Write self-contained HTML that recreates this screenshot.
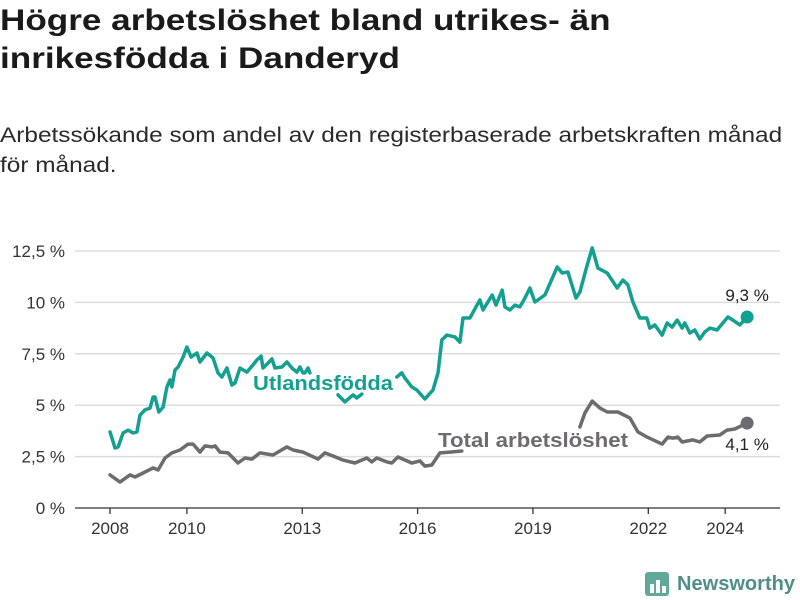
<!DOCTYPE html>
<html><head><meta charset="utf-8"><style>
body{margin:0;width:800px;height:600px;background:#fff;font-family:"Liberation Sans",sans-serif;color:#222;overflow:hidden;position:relative}
h1{position:absolute;left:0;top:2px;margin:0;font-size:29.5px;line-height:38px;font-weight:bold;color:#1a1a1a;transform:scaleX(1.19);transform-origin:0 0;white-space:nowrap}
p{position:absolute;left:0;top:120px;margin:0;font-size:21.3px;line-height:30px;color:#2a2a2a;transform:scaleX(1.145);transform-origin:0 0;white-space:nowrap}
svg{position:absolute;left:0;top:0}
</style></head><body>
<h1>Högre arbetslöshet bland utrikes- än<br>inrikesfödda i Danderyd</h1>
<p>Arbetssökande som andel av den registerbaserade arbetskraften månad<br>för månad.</p>
<svg id="c" width="800" height="600"></svg>
<script>
const yTicks=[0,2.5,5,7.5,10,12.5];
const yTickLabels=["0 %","2,5 %","5 %","7,5 %","10 %","12,5 %"];
const xTicks=[2008,2010,2013,2016,2019,2022,2024];
const utlYears=[2008.00,2008.13,2008.21,2008.34,2008.47,2008.60,2008.70,2008.78,2008.91,2009.04,2009.12,2009.17,2009.27,2009.38,2009.48,2009.56,2009.61,2009.69,2009.77,2009.90,2010.00,2010.11,2010.26,2010.34,2010.52,2010.68,2010.81,2010.91,2011.04,2011.17,2011.25,2011.38,2011.56,2011.72,2011.82,2011.93,2011.98,2012.11,2012.21,2012.29,2012.47,2012.60,2012.73,2012.86,2012.94,2013.02,2013.07,2013.15,2013.20,2013.5,2013.93,2014.11,2014.32,2014.42,2014.55,2015.0,2015.46,2015.59,2015.67,2015.85,2015.98,2016.19,2016.40,2016.53,2016.63,2016.76,2016.97,2017.10,2017.18,2017.36,2017.62,2017.70,2017.94,2018.04,2018.20,2018.27,2018.40,2018.53,2018.66,2018.79,2018.92,2019.05,2019.31,2019.63,2019.76,2019.91,2020.12,2020.22,2020.41,2020.54,2020.69,2020.93,2021.19,2021.34,2021.47,2021.60,2021.78,2021.96,2022.04,2022.17,2022.36,2022.49,2022.62,2022.75,2022.88,2022.95,2023.08,2023.21,2023.34,2023.47,2023.60,2023.79,2023.94,2024.07,2024.20,2024.38,2024.57];
const utlValues=[3.70,2.92,2.97,3.65,3.79,3.65,3.70,4.52,4.77,4.86,5.40,5.40,4.67,4.91,5.89,6.23,5.89,6.71,6.86,7.34,7.83,7.34,7.54,7.10,7.54,7.30,6.57,6.37,6.81,5.98,6.08,6.81,6.61,6.96,7.20,7.39,6.81,7.05,7.25,6.81,6.86,7.10,6.81,6.61,6.86,6.57,6.57,6.81,6.57,null,5.50,5.16,5.50,5.35,5.54,null,6.37,6.57,6.32,5.89,5.74,5.30,5.74,6.57,8.17,8.41,8.32,8.07,9.24,9.24,10.12,9.63,10.36,9.87,10.60,9.78,9.63,9.87,9.78,10.21,10.70,10.02,10.36,11.72,11.43,11.48,10.21,10.51,11.82,12.65,11.67,11.43,10.70,11.09,10.85,10.02,9.24,9.24,8.75,8.90,8.41,9.00,8.80,9.14,8.75,9.00,8.51,8.66,8.22,8.56,8.75,8.66,9.00,9.29,9.14,8.90,9.29];
const totYears=[2008.00,2008.26,2008.52,2008.65,2008.86,2009.12,2009.25,2009.43,2009.61,2009.82,2010.03,2010.16,2010.34,2010.47,2010.65,2010.73,2010.86,2011.07,2011.33,2011.51,2011.69,2011.90,2012.24,2012.60,2012.76,2013.02,2013.41,2013.59,2013.80,2014.06,2014.37,2014.68,2014.81,2014.94,2015.20,2015.33,2015.49,2015.85,2016.06,2016.19,2016.37,2016.58,2016.84,2017.15,2018.5,2020.22,2020.35,2020.54,2020.74,2020.93,2021.21,2021.52,2021.73,2021.97,2022.36,2022.51,2022.64,2022.77,2022.88,2023.16,2023.34,2023.53,2023.86,2024.05,2024.25,2024.57];
const totValues=[1.61,1.26,1.61,1.51,1.70,1.95,1.85,2.43,2.68,2.82,3.11,3.11,2.72,3.02,2.97,3.02,2.72,2.68,2.19,2.43,2.38,2.68,2.58,2.97,2.82,2.72,2.38,2.68,2.53,2.33,2.19,2.43,2.24,2.43,2.24,2.19,2.48,2.19,2.29,2.04,2.09,2.68,2.72,2.77,null,3.94,4.62,5.20,4.86,4.67,4.67,4.38,3.70,3.45,3.11,3.45,3.40,3.45,3.21,3.31,3.21,3.50,3.55,3.79,3.84,4.13];
const NS="http://www.w3.org/2000/svg";
const svg=document.getElementById('c');
const X=y=>110+(y-2008)*38.45, Y=v=>508-v*20.56;
function mk(t,a,p){const e=document.createElementNS(NS,t);for(const k in a)e.setAttribute(k,a[k]);(p||svg).appendChild(e);return e;}
yTicks.forEach((v,i)=>{
 const l=mk('line',{x1:75,x2:780,y1:Y(v),y2:Y(v),stroke:v===0?'#333':'#ddd','stroke-width':v===0?1.3:1.5});
 
 
 const t=mk('text',{x:65,y:Y(v)+6,'text-anchor':'end','font-size':17,fill:'#333'});
 t.textContent=yTickLabels[i];
 
 
});
xTicks.forEach(yr=>{
 const l=mk('line',{x1:X(yr),x2:X(yr),y1:508,y2:514,stroke:'#333','stroke-width':1.3});
 
 
 const t=mk('text',{x:X(yr),y:534,'text-anchor':'middle','font-size':17,fill:'#333'});
 t.textContent=yr;
 
 
});
function path(ys,vs){let d='',pen=false;ys.forEach((yr,i)=>{const v=vs[i];if(v===null){pen=false;return;}d+=(pen?'L':'M')+X(yr).toFixed(1)+','+Y(v).toFixed(1);pen=true;});return d;}
const pu=mk('path',{d:path(utlYears,utlValues),fill:'none',stroke:'#13a091','stroke-width':3.5,'stroke-linejoin':'round','stroke-linecap':'round'});


const pt=mk('path',{d:path(totYears,totValues),fill:'none',stroke:'#6d6b70','stroke-width':3.5,'stroke-linejoin':'round','stroke-linecap':'round'});


const lu=utlYears.length-1, lt=totYears.length-1;
const du=mk('circle',{cx:X(utlYears[lu]),cy:Y(utlValues[lu]),r:6.5,fill:'#13a091'});


const dt=mk('circle',{cx:X(totYears[lt]),cy:Y(totValues[lt]),r:6.5,fill:'#6d6b70'});


const a=mk('text',{x:X(utlYears[lu]),y:Y(utlValues[lu])-16,'text-anchor':'middle','font-size':17,fill:'#222'});
a.textContent=String(utlValues[lu].toFixed(1)).replace('.',',')+' %';


const b=mk('text',{x:X(totYears[lt]),y:Y(totValues[lt])+27,'text-anchor':'middle','font-size':17,fill:'#222'});
b.textContent=String(totValues[lt].toFixed(1)).replace('.',',')+' %';


const s1=mk('text',{x:253,y:390,'font-size':20,'font-weight':'bold',fill:'#13a091',textLength:140,lengthAdjust:'spacingAndGlyphs'});
s1.textContent='Utlandsfödda';


const s2=mk('text',{x:438,y:447,'font-size':20,'font-weight':'bold',fill:'#6d6b70',textLength:190,lengthAdjust:'spacingAndGlyphs'});
s2.textContent='Total arbetslöshet';


// logo
const g=mk('g',{});


mk('rect',{x:645,y:572,width:24,height:24,rx:3,fill:'#5fa89a'},g);
[[650,584,4,9],[656,580,4,13],[662,586,4,7]].forEach(r=>mk('rect',{x:r[0],y:r[1],width:r[2],height:r[3],fill:'#fff'},g));
const lt2=mk('text',{x:677,y:590,'font-size':20,'font-weight':'bold',fill:'#4f8f88',textLength:118,lengthAdjust:'spacingAndGlyphs'},g);
lt2.textContent='Newsworthy';
</script>
</body></html>
